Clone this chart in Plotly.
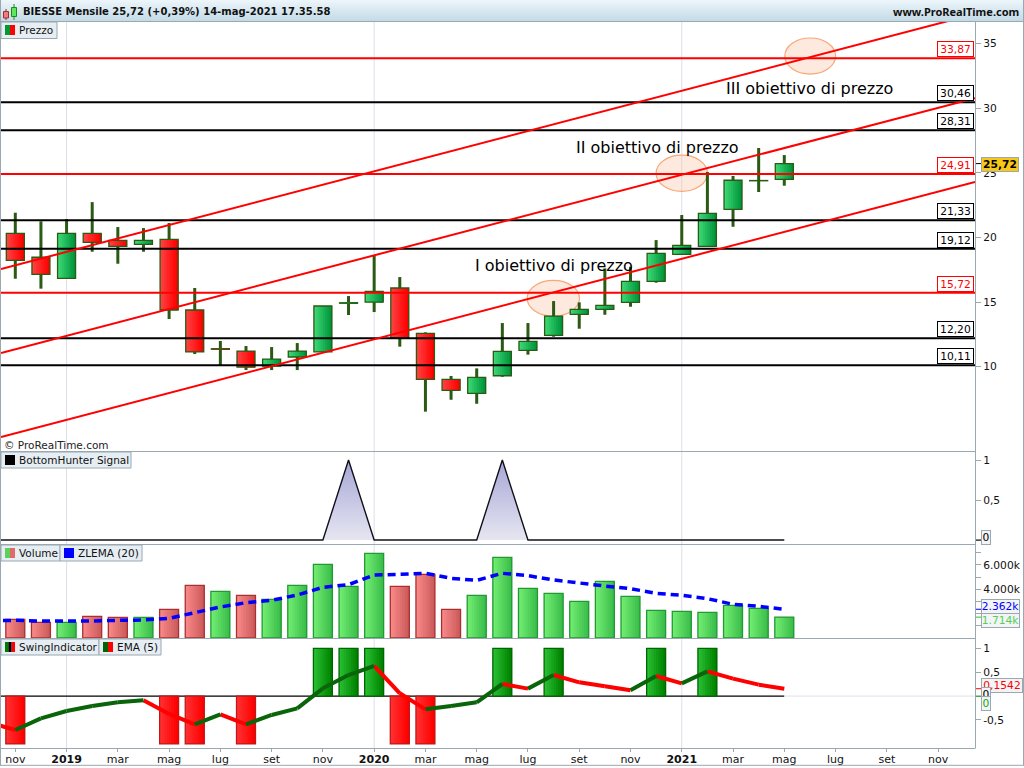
import plotly.graph_objects as go

# ---------- data ----------
title_text = "BIESSE Mensile 25,72 (+0,39%) 14-mag-2021 17.35.58"
site_text = "www.ProRealTime.com"
tick_labels = ["nov", "2019", "mar", "mag", "lug", "set", "nov", "2020", "mar", "mag",
               "lug", "set", "nov", "2021", "mar", "mag", "lug", "set", "nov"]
opens = [20.32, 18.47, 16.84, 20.32, 19.78, 19.47, 19.86, 14.39, 11.38, 11.21, 10.05, 10.75, 11.14, 14.92, 15.00, 16.09,
         12.58, 9.02, 7.94, 9.30, 11.27, 12.43, 14.05, 14.44, 14.98, 16.61, 18.70, 19.32, 22.18, 24.39, 24.50]
closes = [18.23, 17.15, 20.32, 19.63, 19.32, 19.78, 14.39, 11.14, 11.36, 9.97, 10.59, 11.21, 14.70, 14.94, 15.83, 12.24,
          9.02, 8.17, 9.18, 11.19, 11.96, 13.92, 14.44, 14.75, 16.61, 18.77, 19.39, 21.87, 24.43, 24.41, 25.72]
highs = [21.92, 21.25, 21.43, 22.74, 20.81, 20.73, 21.12, 16.09, 11.99, 11.60, 11.52, 11.83, 14.70, 15.47, 18.57, 16.94,
         12.66, 9.28, 9.87, 13.38, 13.38, 15.08, 14.98, 17.61, 17.74, 19.80, 21.74, 25.07, 24.76, 26.93, 26.38]
lows = [16.81, 16.04, 16.84, 18.90, 17.97, 18.90, 13.69, 10.98, 10.13, 9.74, 9.74, 9.74, 11.14, 14.00, 14.23, 11.55,
        6.52, 7.44, 7.13, 9.22, 10.93, 12.32, 12.94, 14.02, 14.64, 16.50, 18.70, 19.32, 20.83, 23.52, 24.01]
red_levels = [33.87, 24.91, 15.72]
black_levels = [30.46, 28.31, 21.33, 19.12, 12.20, 10.11]
level_labels = {33.87: "33,87", 24.91: "24,91", 15.72: "15,72", 30.46: "30,46", 28.31: "28,31",
                21.33: "21,33", 19.12: "19,12", 12.20: "12,20", 10.11: "10,11"}
trend_x = [-0.558, 37.44]
trend_low = [4.56, 24.29]
trend_mid = [11.06, 30.79]
trend_high = [17.56, 37.30]
targets = [(19.97, 22.01, 13.90, 16.68), (25.00, 27.00, 23.57, 26.38), (30.02, 32.00, 32.65, 35.44)]
bottom_hunter_x = [-1] + list(range(31))
bottom_hunter = [0, 0, 0, 0, 0, 0, 0, 0, 0, 0, 0, 0, 0, 0, 1, 0, 0, 0, 0, 0, 1, 0, 0, 0, 0, 0, 0, 0, 0, 0, 0, 0]
volumes = [1536, 1288, 1288, 1783, 1700, 1700, 2358, 4330, 3837, 3508, 3180, 4330, 6056, 4248, 6960, 4248,
           5234, 2358, 3508, 6631, 4084, 3673, 3016, 4659, 3426, 2276, 2194, 2112, 2687, 2440, 1714]
volume_up = [0, 0, 1, 0, 0, 1, 0, 0, 1, 0, 1, 1, 1, 1, 1, 0, 0, 0, 1, 1, 1, 1, 1, 1, 1, 1, 1, 1, 1, 1, 1]
zlema_x = [-0.48] + list(range(31))
zlema = [1440, 1452, 1397, 1370, 1397, 1452, 1479, 1616, 2109, 2547, 2903, 3095, 3533, 4163, 4382, 5177, 5231,
         5314, 4903, 4738, 5314, 5122, 4766, 4492, 4273, 4054, 3670, 3506, 3232, 2766, 2602, 2362]
swing = [-1, 0, 0, 0, 0, 0, -1, -1, 0, -1, 0, 0, 1, 1, 1, -1, -1, 0, 0, 1, 0, 1, 0, 0, 0, 1, 0, 1, 0, 0, 0]
ema_x = [-1] + list(range(31))
ema = [-0.556, -0.709, -0.465, -0.312, -0.207, -0.130, -0.089, -0.374, -0.591, -0.381, -0.591, -0.395, -0.256,
       0.162, 0.441, 0.630, 0.058, -0.277, -0.207, -0.130, 0.253, 0.156, 0.441, 0.288, 0.204, 0.121, 0.420,
       0.267, 0.518, 0.365, 0.239, 0.1542]

# ---------- layout helpers ----------
W, H = 1024, 768
FONT = "DejaVu Sans"
GRAY = "#9aa8b0"
TAG = "#e6eef3"
H_FIT = 766.0
px = lambda v: v / W
py = lambda v: 1 - v / H_FIT
idx = list(range(len(opens)))


def mix(a, b, t):
    return "rgb(%d,%d,%d)" % tuple(round(a[k] + (b[k] - a[k]) * t) for k in range(3))


def gradient_bars(fig, xs, bases, tops, left, right, width, yaxis, outline, n=8):
    """Bodies with a left-to-right shade: n overlapping bars per category plus an outline."""
    for k in range(n):
        t = k / (n - 1)
        fig.add_trace(go.Bar(x=xs, y=[b - a for a, b in zip(bases, tops)], base=bases,
                             width=width - k * width / n, offset=-width / 2 + k * width / n, yaxis=yaxis,
                             marker=dict(color=[mix(l, r, t) for l, r in zip(left, right)], line_width=0),
                             hoverinfo="skip", showlegend=False))
    fig.add_trace(go.Bar(x=xs, y=[b - a for a, b in zip(bases, tops)], base=bases, width=width, offset=-width / 2,
                         yaxis=yaxis, marker=dict(color="rgba(0,0,0,0)", line=dict(color=outline, width=1.3)),
                         hoverinfo="skip", showlegend=False))


fig = go.Figure()

# ---------- price pane ----------
fig.add_trace(go.Bar(x=idx, y=[h - l for h, l in zip(highs, lows)], base=lows, width=0.117, offset=-0.0585,
                     marker=dict(color="#2a5a14", line_width=0), hoverinfo="skip", showlegend=False))
is_up = [c >= o for o, c in zip(opens, closes)]
gradient_bars(fig, idx, [min(o, c) for o, c in zip(opens, closes)], [max(o, c) for o, c in zip(opens, closes)],
              [(60, 214, 116) if u else (255, 64, 64) for u in is_up],
              [(0, 150, 60) if u else (255, 0, 0) for u in is_up],
              0.702, "y", ["#2a5a14"] * len(idx))
for level in black_levels:
    fig.add_trace(go.Scatter(x=trend_x, y=[level, level], mode="lines", line=dict(color="#000000", width=2),
                             hoverinfo="skip", showlegend=False))
for level in red_levels:
    fig.add_trace(go.Scatter(x=trend_x, y=[level, level], mode="lines", line=dict(color="#ff0000", width=2),
                             hoverinfo="skip", showlegend=False))
for series in (trend_low, trend_mid, trend_high):
    fig.add_trace(go.Scatter(x=trend_x, y=series, mode="lines", line=dict(color="#ff0000", width=2),
                             hoverinfo="skip", showlegend=False))

# ---------- BottomHunter pane ----------
fig.add_trace(go.Scatter(x=bottom_hunter_x, y=bottom_hunter, yaxis="y2", mode="lines", line=dict(color="#101018", width=1.4),
                         fill="tozeroy",
                         fillgradient=dict(type="vertical", colorscale=[[0, "#e6e6f2"], [1, "#a6a6d6"]]),
                         hoverinfo="skip", showlegend=False))

# ---------- volume pane ----------
for flag, left, right, edge in ((1, (112, 236, 112), (60, 190, 76), "#229933"),
                                (0, (248, 136, 136), (204, 92, 92), "#aa3030")):
    xs = [i for i in idx if volume_up[i] == flag]
    gradient_bars(fig, xs, [0] * len(xs), [volumes[i] for i in xs], [left] * len(xs), [right] * len(xs),
                  0.74, "y3", edge)
fig.add_trace(go.Scatter(x=zlema_x, y=zlema, yaxis="y3", mode="lines",
                         line=dict(color="#0000ff", width=3.5, dash="8px,5px"),
                         hoverinfo="skip", showlegend=False))

# ---------- swing pane ----------
for flag, left, right, edge in ((1, (40, 190, 50), (0, 130, 0), "#006600"),
                                (-1, (255, 48, 48), (255, 0, 0), "#c01818")):
    xs = [i for i in idx if swing[i] == flag]
    gradient_bars(fig, xs, [min(swing[i], 0) for i in xs], [max(swing[i], 0) for i in xs],
                  [left] * len(xs), [right] * len(xs), 0.74, "y4", edge)
ex_up, ey_up, ex_dn, ey_dn = [], [], [], []
for a in range(len(ema) - 1):
    xs_, ys_ = (ex_up, ey_up) if ema[a + 1] > ema[a] else (ex_dn, ey_dn)
    xs_ += [ema_x[a], ema_x[a + 1], None]
    ys_ += [ema[a], ema[a + 1], None]
fig.add_trace(go.Scatter(x=ex_dn, y=ey_dn, yaxis="y4", mode="lines", line=dict(color="#ff0000", width=4),
                         hoverinfo="skip", showlegend=False))
fig.add_trace(go.Scatter(x=ex_up, y=ey_up, yaxis="y4", mode="lines", line=dict(color="#0a640a", width=4),
                         hoverinfo="skip", showlegend=False))

# ---------- shapes ----------
shapes = []


def rect(x0, y0, x1, y1, fill, line=None, lw=1, layer="above"):
    shapes.append(dict(type="rect", xref="paper", yref="paper", x0=px(x0), x1=px(x1), y0=py(y1), y1=py(y0),
                       fillcolor=fill, line=dict(color=line or "rgba(0,0,0,0)", width=lw if line else 0), layer=layer))


def seg(x0, y0, x1, y1, color=GRAY, lw=1, layer="above"):
    shapes.append(dict(type="line", xref="paper", yref="paper", x0=px(x0), x1=px(x1), y0=py(y0), y1=py(y1),
                       line=dict(color=color, width=lw), layer=layer))


# yearly gridlines
for pos, lab in enumerate(tick_labels):
    if lab.isdigit():
        shapes.append(dict(type="line", xref="x", yref="paper", x0=pos * 2, x1=pos * 2, y0=py(748), y1=py(22),
                           line=dict(color="#dedee9", width=1), layer="below"))
# target ellipses
for x0, x1, y0, y1 in targets:
    shapes.append(dict(type="circle", xref="x", yref="y", x0=x0, x1=x1, y0=y0, y1=y1,
                       fillcolor="rgba(250,195,160,0.36)", line=dict(color="#f6a878", width=1.2), layer="below"))
# swing zero line
shapes.append(dict(type="line", xref="x", yref="y4", x0=trend_x[0], x1=idx[-1], y0=0, y1=0,
                   line=dict(color="#000000", width=1.2), layer="below"))
shapes.append(dict(type="line", xref="x", yref="y4", x0=idx[-1], x1=trend_x[1], y0=0, y1=0,
                   line=dict(color="#dedee9", width=1), layer="below"))
# header band
top_c, bot_c = (236, 245, 250), (196, 219, 231)
for row in range(-2, 21):
    rect(0, row, W, row + 1, mix(top_c, bot_c, max(row, 0) / 20))
seg(0, 21.5, W, 21.5)
# frame and pane separators
seg(0.5, -2, 0.5, 765.5)
seg(1023.5, -2, 1023.5, 765.5)
seg(0, 765.3, 1024, 765.3)
seg(975.5, 22, 975.5, 748)
for yy in (451.5, 544.5, 638.5, 748.5):
    seg(0, yy, 975.5, yy)
# header icon
seg(6, 9, 6, 20, "#8a2a2a")
rect(3.5, 11.5, 8.5, 18, "#f27a7a", "#a03030")
seg(14, 4, 14, 20, "#1c8a1c")
rect(11.5, 7.5, 16.5, 16.5, "#5ee65e", "#1c8a1c")

annots = []


def tag(x0, y0, x1, y1, label, icons, font_px=10.5):
    rect(x0, y0, x1, y1, TAG, GRAY)
    iw = 10 / len(icons)
    for k, c in enumerate(icons):
        rect(5 + x0 - 1 + k * iw, y0 + 3, 5 + x0 - 1 + (k + 1) * iw, y0 + 13, c)
    annots.append(dict(x=px(x0 + 16), y=py((y0 + y1) / 2), xref="paper", yref="paper", xanchor="left", yanchor="middle",
                       text=label, showarrow=False, font=dict(family=FONT, size=font_px, color="#111111")))


tag(1, 22, 57, 38.5, "Prezzo", ["#009933", "#ff0000"])
tag(1, 452, 131, 468, "BottomHunter Signal", ["#000000"])
tag(1, 545, 60, 561, "Volume", ["#5ad25a", "#e06a6a"])
tag(60, 545, 142, 561, "ZLEMA (20)", ["#0000ff"])
tag(1, 639, 99, 655, "SwingIndicator", ["#007a00", "#000000", "#ff0000"])
tag(99, 639, 161, 655, "EMA (5)", ["#006400", "#ff0000"])


def free_text(x, y, text, size, anchor="left", color="#000000", family=FONT):
    annots.append(dict(x=px(x), y=py(y), xref="paper", yref="paper", xanchor=anchor, yanchor="middle", text=text,
                       showarrow=False, font=dict(family=family, size=size, color=color)))


free_text(21, 12, "<b>%s</b>" % title_text, 10, color="#111111")
free_text(1021, 12, "<b>%s</b>" % site_text, 11, anchor="right", family="Noto Sans", color="#111111")
free_text(2, 445, "© ProRealTime.com", 10.5, color="#222222")
free_text(473, 265, "I obiettivo di prezzo", 16)
free_text(574, 148, "II obiettivo di prezzo", 16)
free_text(724, 88, "III obiettivo di prezzo", 16)

# level labels
for level, text in level_labels.items():
    col = "#ff0000" if level in red_levels else "#000000"
    annots.append(dict(x=px(974), y=level, xref="paper", yref="y", xanchor="right", yanchor="bottom", yshift=1,
                       text=text, showarrow=False, width=35, height=14, borderwidth=1, borderpad=0, bordercolor=col,
                       bgcolor="#ffffff", font=dict(family=FONT, size=10.7, color=col)))


def value_box(x, y, text, color, w, bold=False, bg="#f2f4f6"):
    annots.append(dict(x=px(x), y=py(y), xref="paper", yref="paper", xanchor="left", yanchor="middle",
                       text="<b>%s</b>" % text if bold else text, showarrow=False, width=w, height=13, borderwidth=1,
                       borderpad=0, bordercolor=GRAY, bgcolor=bg, font=dict(family=FONT, size=10.7, color=color)))


value_box(981, 537, "0", "#000000", 8)
value_box(981, 606, "2.362k", "#0000ff", 37)
value_box(981, 620, "1.714k", "#55d055", 37)
value_box(981, 685, "0,1542", "#ff0000", 40)
value_box(981, 694, "0", "#000000", 8)
value_box(981, 703, "0", "#11aa11", 8)
value_box(981, 164.7, "25,72", "#000000", 36, bold=True, bg="#f8c818")

# little coloured marks on the right axes for the last values
for yref, val, col in (("y", closes[-1], "#000000"), ("y2", bottom_hunter[-1], "#000000"), ("y3", zlema[-1], "#0000ff"),
                       ("y3", volumes[-1], "#33bb33"), ("y4", ema[-1], "#ff0000"), ("y4", 0, "#11aa11")):
    shapes.append(dict(type="line", xref="paper", yref=yref, x0=px(976), x1=px(981), y0=val, y1=val,
                       line=dict(color=col, width=1), layer="above"))

# ---------- axes ----------
common_y = dict(side="right", anchor="x", showgrid=False, zeroline=False, showline=False, ticks="outside", ticklen=5,
                tickwidth=1, tickcolor=GRAY, tickfont=dict(family=FONT, size=10.7, color="#111111"), fixedrange=True)
price_ticks = [10, 15, 20, 25, 30, 35]
fig.update_layout(
    width=W, height=H, margin=dict(l=0, r=0, t=0, b=0), paper_bgcolor="#ffffff", plot_bgcolor="#ffffff",
    barmode="overlay", showlegend=False, separators=",.", font=dict(family=FONT),
    xaxis=dict(domain=[px(1), px(975)], anchor="y4", range=[trend_x[0], trend_x[1]],
               tickvals=[2 * i for i in range(len(tick_labels))],
               ticktext=["<b>%s</b>" % t if t.isdigit() else t for t in tick_labels],
               ticks="outside", ticklen=3, ticklabelstandoff=-2, tickcolor=GRAY, showgrid=False, zeroline=False,
               showline=False, tickangle=0, tickfont=dict(family=FONT, size=11, color="#111111"), fixedrange=True),
    yaxis=dict(domain=[py(451), py(22)], range=[3.475, 36.68], tickvals=price_ticks,
               ticktext=[str(t) for t in price_ticks], **common_y),
    yaxis2=dict(domain=[py(544.5), py(452)], range=[-0.056, 1.1], tickvals=[0, 0.5, 1], ticktext=["0", "0,5", "1"], **common_y),
    yaxis3=dict(domain=[py(638), py(545)], range=[0, 7640], tickvals=[1000, 2000, 3000, 4000, 5000, 6000, 7000],
                ticktext=["", "", "", "4.000k", "", "6.000k", ""], **common_y),
    yaxis4=dict(domain=[py(748), py(638.5)], range=[-1.086, 1.205], tickvals=[-0.5, 0, 0.5, 1],
                ticktext=["-0,5", "0", "0,5", "1"], **common_y),
    shapes=shapes, annotations=annots,
)

fig.write_html("out.html", config=dict(displayModeBar=False),
               post_script="document.body.style.margin='0';document.body.style.overflow='hidden';")
